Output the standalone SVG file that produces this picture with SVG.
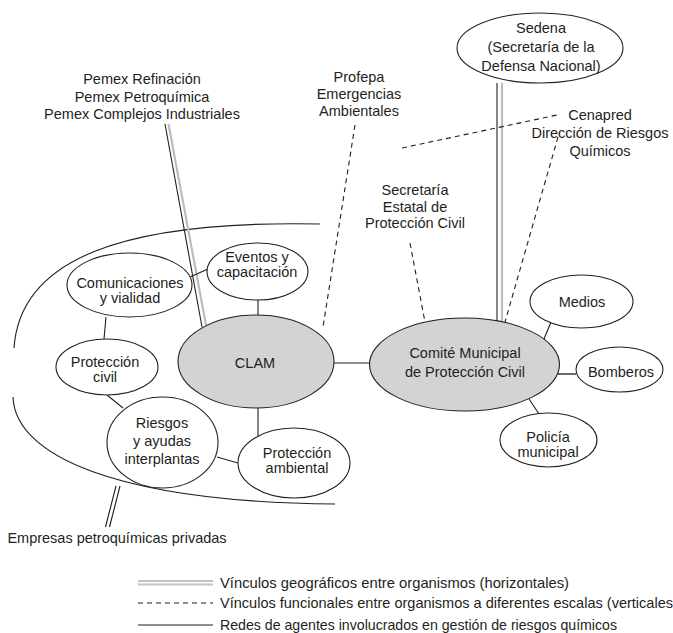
<svg xmlns="http://www.w3.org/2000/svg" width="673" height="633" viewBox="0 0 673 633">
<style>
text{font-family:"Liberation Sans",Arial,sans-serif;font-size:14.5px;fill:#231f20;text-anchor:middle}
.n{fill:#fff;stroke:#231f20;stroke-width:1.1}
.g{fill:#d3d3d4;stroke:#231f20;stroke-width:1.1}
.s{stroke:#231f20;stroke-width:1.1;fill:none}
.d{stroke:#231f20;stroke-width:1.1;fill:none;stroke-dasharray:5 4}
.gr{stroke:#bdbdbd;stroke-width:2.2;fill:none}
.lg{text-anchor:start}
</style>
<rect width="673" height="633" fill="#fff"/>
<g id="connectors">
<path class="s" d="M320 224 C120 220 20 260 14 348"/>
<path class="s" d="M13 397 C15 455 115 502 335 504"/>
<line class="s" x1="165" y1="124" x2="202" y2="327"/>
<line class="gr" x1="168.5" y1="124" x2="206" y2="325"/>
<line class="s" x1="497" y1="83" x2="497" y2="322"/>
<line class="gr" x1="502" y1="83" x2="502" y2="322"/>
<line class="s" x1="116" y1="486" x2="105.5" y2="527"/>
<line class="s" x1="120" y1="486" x2="109.5" y2="527"/>
<line class="d" x1="355" y1="125" x2="323" y2="327"/>
<line class="d" x1="402" y1="148" x2="557" y2="115"/>
<line class="d" x1="558" y1="137" x2="505" y2="322"/>
<line class="d" x1="410" y1="243" x2="425" y2="322"/>
<line class="s" x1="334" y1="363" x2="370" y2="363"/>
<line class="s" x1="551" y1="322" x2="544" y2="339"/>
<line class="s" x1="557" y1="374" x2="576" y2="374" style="stroke-width:1.6;stroke:#444"/>
<line class="s" x1="529" y1="399" x2="539" y2="414"/>
<line class="s" x1="258" y1="300" x2="258" y2="315"/>
<line class="s" x1="190" y1="277" x2="208" y2="269"/>
<line class="s" x1="106" y1="317" x2="104" y2="339"/>
<line class="s" x1="107" y1="395" x2="123" y2="408"/>
<line class="s" x1="258" y1="408" x2="258" y2="436"/>
<line class="s" x1="217" y1="457" x2="238" y2="463"/>
</g>
<g id="sedena"><ellipse class="n" cx="540" cy="48" rx="83" ry="35"/><text x="541" y="33">Sedena</text><text x="541" y="52">(Secretaría de la</text><text x="541" y="71">Defensa Nacional)</text></g>
<g id="pemex"><text x="142" y="84">Pemex Refinación</text><text x="142" y="102">Pemex Petroquímica</text><text x="142" y="119">Pemex Complejos Industriales</text></g>
<g id="profepa"><text x="359" y="82">Profepa</text><text x="359" y="99">Emergencias</text><text x="359" y="116">Ambientales</text></g>
<g id="cenapred"><text x="600" y="120">Cenapred</text><text x="600" y="138">Dirección de Riesgos</text><text x="600" y="156">Químicos</text></g>
<g id="secretaria"><text x="415" y="195">Secretaría</text><text x="415" y="212">Estatal de</text><text x="415" y="228">Protección Civil</text></g>
<g id="clam"><ellipse class="g" cx="256" cy="361.5" rx="78" ry="46.5"/><text x="255" y="368">CLAM</text></g>
<g id="comite"><ellipse class="g" cx="464.5" cy="364.5" rx="95" ry="46.5"/><text x="465" y="358">Comité Municipal</text><text x="465" y="377">de Protección Civil</text></g>
<g id="medios"><ellipse class="n" cx="581.5" cy="301.5" rx="51.5" ry="26.5"/><text x="582" y="307">Medios</text></g>
<g id="bomberos"><ellipse class="n" cx="619.5" cy="369.5" rx="43.5" ry="22.5"/><text x="621" y="377">Bomberos</text></g>
<g id="policia"><ellipse class="n" cx="548.5" cy="440" rx="48.5" ry="27"/><text x="548" y="442">Policía</text><text x="548" y="457">municipal</text></g>
<g id="eventos"><ellipse class="n" cx="257.5" cy="271.5" rx="50.5" ry="28.5"/><text x="257" y="262">Eventos y</text><text x="257" y="277">capacitación</text></g>
<g id="comunicaciones"><ellipse class="n" cx="129.5" cy="285" rx="62.5" ry="32"/><text x="130" y="288">Comunicaciones</text><text x="130" y="303">y vialidad</text></g>
<g id="proteccion-civil"><ellipse class="n" cx="107" cy="367" rx="51" ry="28"/><text x="105" y="367">Protección</text><text x="105" y="382">civil</text></g>
<g id="riesgos"><ellipse class="n" cx="162.5" cy="442.5" rx="55.5" ry="45.5"/><text x="162" y="428">Riesgos</text><text x="162" y="446">y ayudas</text><text x="162" y="464">interplantas</text></g>
<g id="proteccion-ambiental"><ellipse class="n" cx="294" cy="463" rx="56" ry="35"/><text x="297" y="458">Protección</text><text x="297" y="473">ambiental</text></g>
<g id="empresas"><text x="117" y="543">Empresas petroquímicas privadas</text></g>
<g id="legend">
<line x1="138" y1="581" x2="213" y2="581" stroke="#888" stroke-width="1.2"/>
<line x1="138" y1="584.5" x2="213" y2="584.5" stroke="#c4c4c4" stroke-width="2"/>
<text class="lg" x="220" y="588" textLength="349" lengthAdjust="spacingAndGlyphs">Vínculos geográficos entre organismos (horizontales)</text>
<line class="d" x1="138" y1="603" x2="213" y2="603"/>
<text class="lg" x="220" y="608" textLength="453" lengthAdjust="spacingAndGlyphs">Vínculos funcionales entre organismos a diferentes escalas (verticales</text>
<line class="s" x1="138" y1="625" x2="213" y2="625"/>
<text class="lg" x="220" y="630" textLength="397" lengthAdjust="spacingAndGlyphs">Redes de agentes involucrados en gestión de riesgos químicos</text>
</g>
</svg>
